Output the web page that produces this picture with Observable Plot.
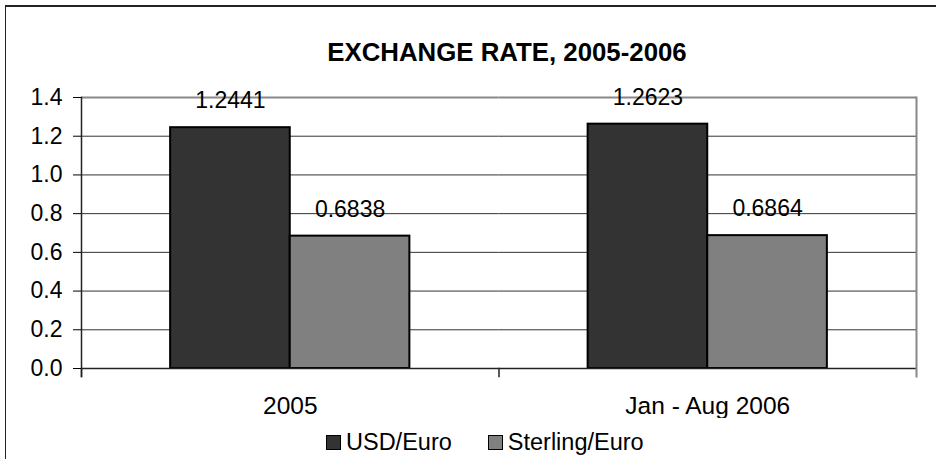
<!DOCTYPE html>
<html>
<head>
<meta charset="utf-8">
<script src="https://cdn.jsdelivr.net/npm/d3@7"></script>
<script src="https://cdn.jsdelivr.net/npm/@observablehq/plot@0.6"></script>
<style>
  html, body { margin: 0; padding: 0; background: #fff; }
  #wrap { position: relative; width: 936px; height: 459px; overflow: hidden; font-family: "Liberation Sans", Arial, sans-serif; color: #000; }
  #border { position: absolute; left: 5px; top: 5px; width: 2000px; height: 2000px; border-top: 2px solid #222; border-left: 1.5px solid #222; }
  #title { position: absolute; left: 0; width: 1014px; top: 37px; text-align: center; font-weight: bold; font-size: 25.8px; line-height: 30px; }
  #chart { position: absolute; left: 0; top: 70px; }
  #legend { position: absolute; left: 326px; top: 428px; display: flex; align-items: center; font-size: 23.5px; line-height: 28px; }
  .item { display: flex; align-items: center; margin-right: 36px; }
  .sw { width: 13px; height: 13px; border: 1.5px solid #000; margin-right: 5px; }
</style>
</head>
<body>
<div id="wrap">
  <div id="border"></div>
  <div id="title">EXCHANGE RATE, 2005-2006</div>
  <div id="chart"></div>
  <div id="legend"></div>
</div>
<script>
const categories = ["2005", "Jan - Aug 2006"];
const seriesNames = ["USD/Euro", "Sterling/Euro"];
const usdEuro = [1.2441, 1.2623];
const sterlingEuro = [0.6838, 0.6864];
const seriesColors = ["#333333", "#808080"];
const yTicks = [0, 0.2, 0.4, 0.6, 0.8, 1.0, 1.2, 1.4];

const data = [];
categories.forEach((c, i) => {
  data.push({cat: c, series: seriesNames[0], value: usdEuro[i]});
  data.push({cat: c, series: seriesNames[1], value: sterlingEuro[i]});
});

const width = 936, height = 348;
const marginTop = 27, marginBottom = 50, marginLeft = 81, marginRight = 20;
const innerH = height - marginTop - marginBottom;

const plot = Plot.plot({
  width, height, marginTop, marginBottom, marginLeft, marginRight,
  style: {fontFamily: '"Liberation Sans", Arial, sans-serif', color: "#000", background: "transparent"},
  fx: {domain: categories, paddingInner: 0, paddingOuter: 0, round: false, label: null},
  x: {domain: seriesNames, paddingInner: 0, paddingOuter: 0.745, round: false, axis: null},
  y: {domain: [0, 1.4], label: null},
  color: {domain: seriesNames, range: seriesColors},
  marks: [
    Plot.ruleY(yTicks.filter(t => t > 0 && t < 1.4), {stroke: "#333", strokeWidth: 1}),
    Plot.ruleY([1.4], {stroke: "#888", strokeWidth: 2}),
    Plot.barY(data, {fx: "cat", x: "series", y: "value", fill: "series", stroke: "#000", strokeWidth: 2}),
    Plot.text(data, {fx: "cat", x: "series", y: "value", text: d => d3.format(".4f")(d.value), dy: -27, fontSize: 23, fill: "#000"}),
    Plot.ruleY([0], {stroke: "#222", strokeWidth: 1.5}),
    Plot.frame({anchor: "left", facetAnchor: "left", stroke: "#222", strokeWidth: 1.5, insetBottom: -8}),
    Plot.frame({anchor: "left", stroke: "#222", strokeWidth: 1.5, insetTop: innerH, insetBottom: -8}),
    Plot.frame({anchor: "right", facetAnchor: "right", stroke: "#888", strokeWidth: 2, insetBottom: -8}),
    Plot.axisY({ticks: yTicks, tickFormat: d3.format(".1f"), tickSize: 8, tickPadding: 11, fontSize: 23, label: null}),
    Plot.axisFx({anchor: "bottom", tickSize: 0, tickPadding: 28, fontSize: 24.5, label: null})
  ]
});
document.getElementById("chart").appendChild(plot);

const legend = document.getElementById("legend");
seriesNames.forEach((s, i) => {
  const item = document.createElement("div");
  item.className = "item";
  const sw = document.createElement("div");
  sw.className = "sw";
  sw.style.background = seriesColors[i];
  const t = document.createElement("span");
  t.textContent = s;
  item.appendChild(sw);
  item.appendChild(t);
  legend.appendChild(item);
});
</script>
</body>
</html>
